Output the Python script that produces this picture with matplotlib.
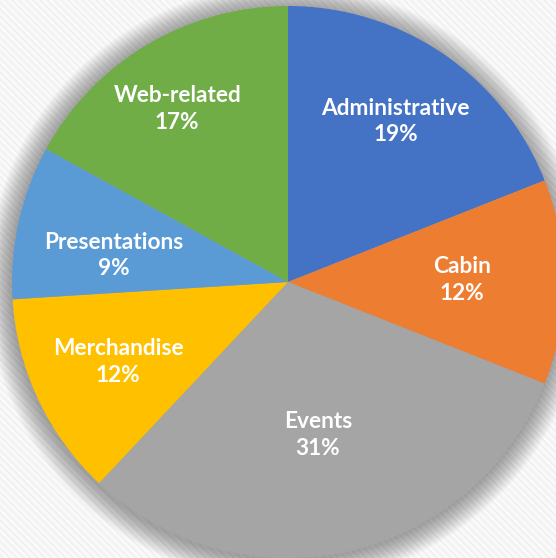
import numpy as np
import matplotlib
matplotlib.use("Agg")
import matplotlib.pyplot as plt
from matplotlib.patches import Circle

categories = ["Administrative", "Cabin", "Events", "Merchandise", "Presentations", "Web-related"]
shares = [19, 12, 31, 12, 9, 17]
colors = ["#4472C4", "#ED7D31", "#A5A5A5", "#FFC000", "#5B9BD5", "#70AD47"]

W, H = 556, 558
fig = plt.figure(figsize=(W / 100, H / 100), dpi=100)
ax = fig.add_axes([0, 0, 1, 1])

# carbon-like textured background
yy, xx = np.mgrid[0:H, 0:W]
t = ((xx - yy) % 7) / 7.0
u = ((xx + yy) % 4) / 4.0
tex = 0.955 + 0.03 * np.where(t < 0.5, 1.0, 0.0) - 0.01 * np.where(u < 0.5, 1.0, 0.0)
rgb = np.dstack([tex, tex, tex])
ax.imshow(rgb, extent=(0, W, 0, H), origin="upper", zorder=0, interpolation="nearest")

cx, cy, R = 288, 276, 276

# soft shadow halo
for i in range(24):
    r = R + 24 - i
    ax.add_patch(Circle((cx - 1, cy - 2), r, facecolor="black", edgecolor="none",
                        alpha=0.016, zorder=1))

wedges, _ = ax.pie(shares, colors=colors, startangle=90, counterclock=False,
                   center=(cx, cy), radius=R, frame=True,
                   wedgeprops=dict(linewidth=0, zorder=2))
ax.set_xlim(0, W)
ax.set_ylim(0, H)
ax.set_aspect("equal")
ax.axis("off")

label_r = [0.70, 0.63, 0.565, 0.68, 0.64, 0.745]
label_da = [0.4, 0.7, -1.5, 0.0, 4.0, 2.0]
for w, cat, s, fr, da in zip(wedges, categories, shares, label_r, label_da):
    ang = np.deg2rad((w.theta1 + w.theta2) / 2 + da)
    x = cx + fr * R * np.cos(ang)
    y = cy + fr * R * np.sin(ang)
    ax.text(x, y, f"{cat}\n{s}%", ha="center", va="center", color="white",
            fontsize=16.3, fontweight="bold", family="Lato", linespacing=1.33, zorder=5)

fig.savefig("out.png", dpi=100)
